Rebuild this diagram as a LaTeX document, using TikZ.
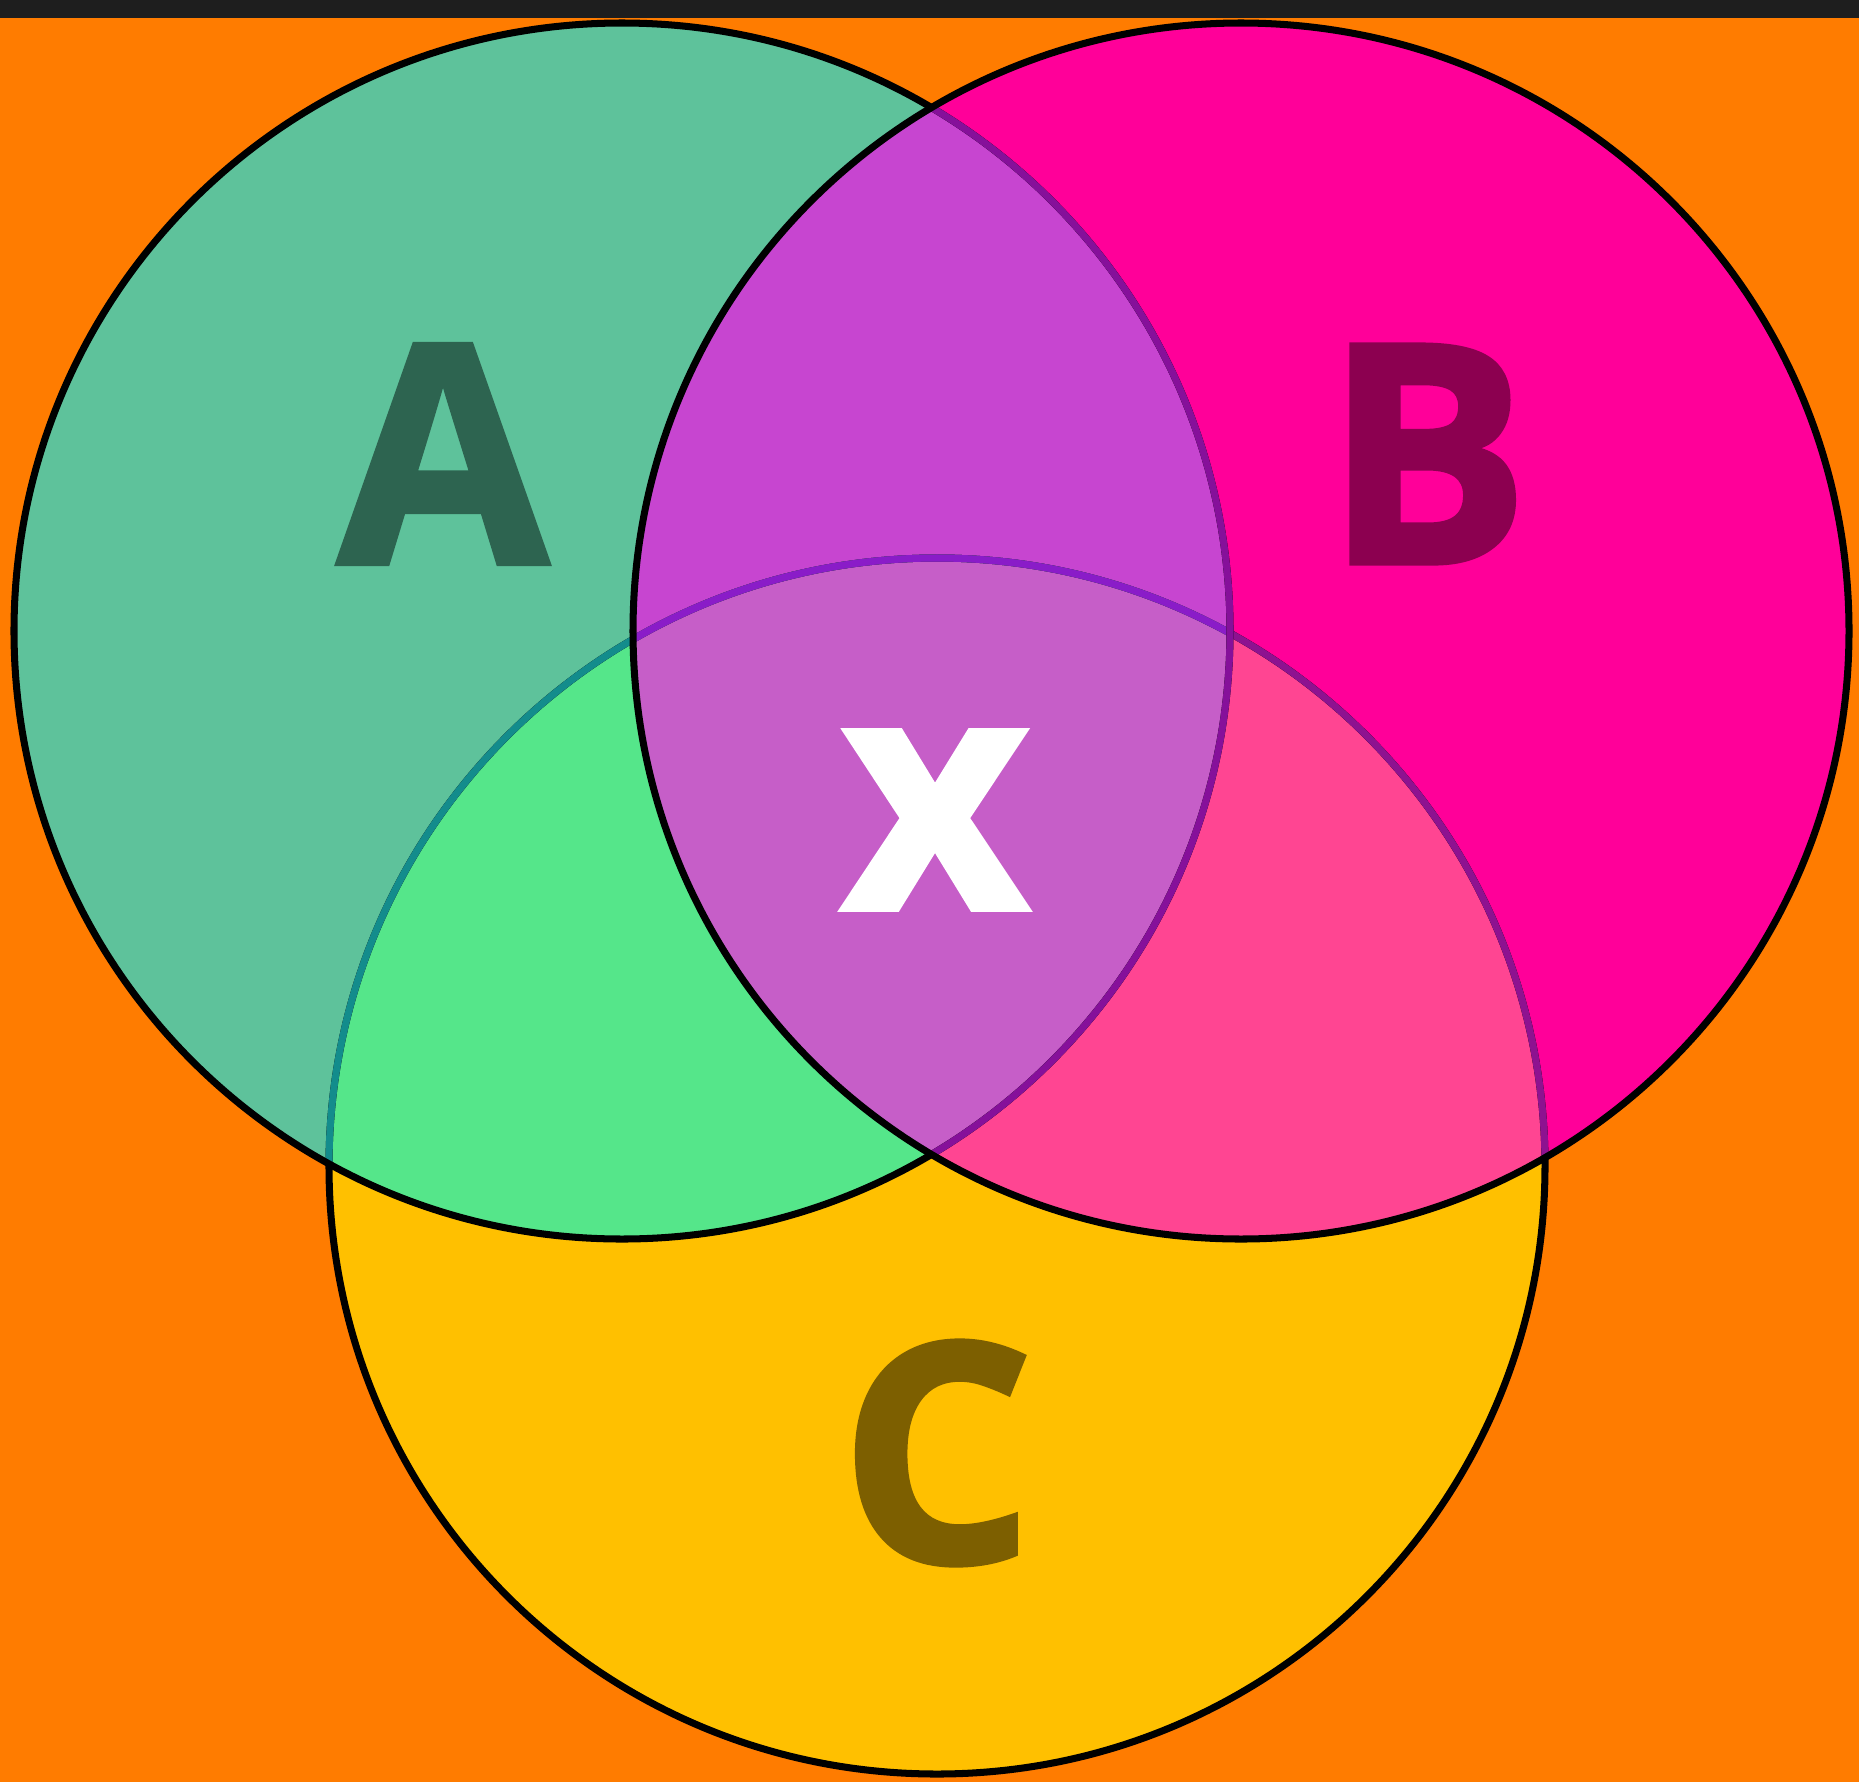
\documentclass[tikz,border=0pt]{standalone}
\usepackage{fontspec}
\setmainfont{Open Sans}[BoldFeatures={FakeBold=1.6}]
\definecolor{bgorange}{HTML}{FF7C00}
\definecolor{topbar}{HTML}{1E1E1E}
\definecolor{colA}{HTML}{5EC29B}
\definecolor{colB}{HTML}{FF0099}
\definecolor{colC}{HTML}{FFC000}
\definecolor{colAB}{HTML}{C745D0}
\definecolor{colAC}{HTML}{55E68A}
\definecolor{colBC}{HTML}{FF4592}
\definecolor{colABC}{HTML}{C65EC8}
\definecolor{lineAinB}{HTML}{86109A}
\definecolor{lineCinA}{HTML}{138C8C}
\definecolor{lineCinB}{HTML}{8E1290}
\definecolor{lineCinAB}{HTML}{8A1CC8}
\definecolor{letA}{HTML}{2D6450}
\definecolor{letB}{HTML}{8C0050}
\definecolor{letC}{HTML}{7D5F00}
\tikzset{
  rim/.style={line width=4pt},
  bigletter/.style={inner sep=0pt, font=\fontsize{174}{174}\selectfont\bfseries},
}
\begin{document}
\begin{tikzpicture}[x=0.02cm,y=-0.02cm]
\useasboundingbox (0,0) rectangle (1859,1782);
\fill[bgorange] (0,0) rectangle (1859,1782);
\fill[topbar] (0,0) rectangle (1859,18);
\coordinate (cA) at (622,631);
\coordinate (cB) at (1241,631);
\coordinate (cC) at (937,1166);
\def\R{608}
% base fills
\fill[colA] (cA) circle [radius=\R];
\fill[colB] (cB) circle [radius=\R];
\fill[colC] (cC) circle [radius=\R];
% pairwise overlaps
\begin{scope}
  \clip (cA) circle [radius=\R];
  \fill[colAB] (cB) circle [radius=\R];
  \fill[colAC] (cC) circle [radius=\R];
\end{scope}
\begin{scope}
  \clip (cB) circle [radius=\R];
  \fill[colBC] (cC) circle [radius=\R];
\end{scope}
\begin{scope}
  \clip (cA) circle [radius=\R];
  \clip (cB) circle [radius=\R];
  \fill[colABC] (cC) circle [radius=\R];
\end{scope}
% outlines
\draw[rim,black] (cC) circle [radius=\R];
\begin{scope}
  \clip (cA) circle [radius=\R];
  \draw[rim,lineCinA] (cC) circle [radius=\R];
\end{scope}
\begin{scope}
  \clip (cB) circle [radius=\R];
  \draw[rim,lineCinB] (cC) circle [radius=\R];
\end{scope}
\begin{scope}
  \clip (cA) circle [radius=\R];
  \clip (cB) circle [radius=\R];
  \draw[rim,lineCinAB] (cC) circle [radius=\R];
\end{scope}
\draw[rim,black] (cA) circle [radius=\R];
\begin{scope}
  \clip (cB) circle [radius=\R];
  \draw[rim,lineAinB] (cA) circle [radius=\R];
\end{scope}
\draw[rim,black] (cB) circle [radius=\R];
% labels
\node[bigletter,text=letA] (la) at (443,454) {A};
\node[bigletter,text=letB] (lb) at (1427,454) {B};
\node[bigletter,text=white,font=\fontsize{186}{186}\selectfont\bfseries] (lx) at (935,820) {x};
\node[bigletter,text=letC] (lc) at (937,1453) {C};
\end{tikzpicture}
\end{document}
